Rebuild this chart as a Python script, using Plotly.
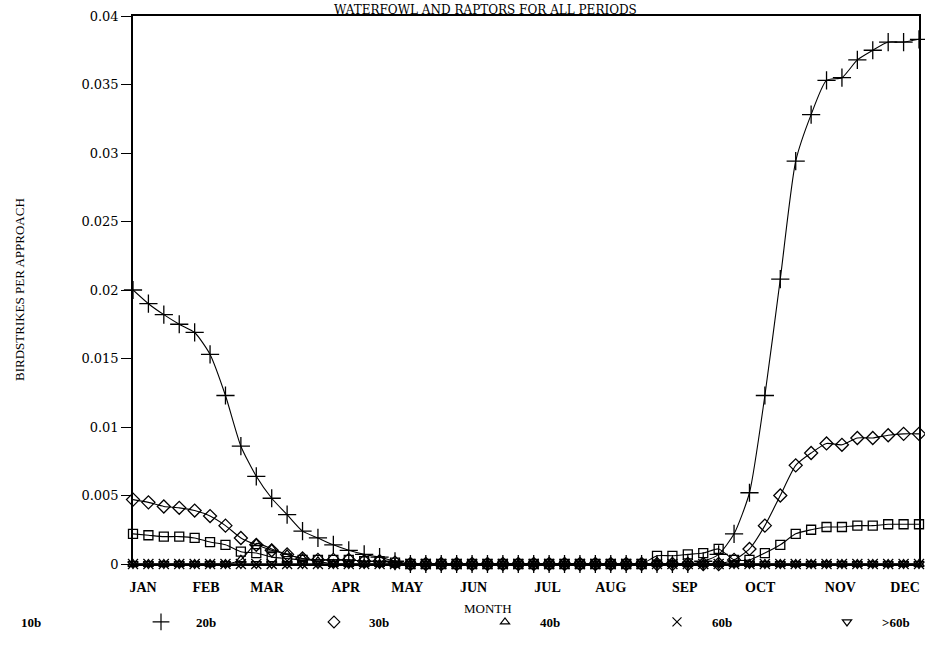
import plotly.graph_objects as go

# ---------------- data (weekly values, week 0 .. 51) ----------------
weeks = list(range(52))

month_labels = ["JAN", "FEB", "MAR", "APR", "MAY", "JUN",
                "JUL", "AUG", "SEP", "OCT", "NOV", "DEC"]
month_pos = [0.65, 4.74, 8.7, 13.8, 17.8, 22.1, 26.9, 31.0, 35.8, 40.7, 45.9, 50.1]

y_tick_vals = [0, 0.005, 0.01, 0.015, 0.02, 0.025, 0.03, 0.035, 0.04]

s_10b = [0.0022, 0.0021, 0.0020, 0.0020, 0.0019, 0.0016, 0.0014, 0.0009, 0.0008, 0.0005,
         0.0004, 0.0003, 0.0003, 0.0003, 0.0003, 0.0002, 0.0002, 0.0001, 0, 0,
         0, 0, 0, 0, 0, 0, 0, 0, 0, 0,
         0, 0, 0, 0, 0.0006, 0.0006, 0.0007, 0.0008, 0.0011, 0.0003,
         0.0003, 0.0008, 0.0014, 0.0022, 0.0025, 0.0027, 0.0027, 0.0028, 0.0028, 0.0029,
         0.0029, 0.0029]

s_20b = [0.0200, 0.0190, 0.0182, 0.0175, 0.0169, 0.0153, 0.0123, 0.0086, 0.0064, 0.0048,
         0.0036, 0.0024, 0.0019, 0.0014, 0.0010, 0.0007, 0.0005, 0.0002, 0, 0,
         0, 0, 0, 0, 0, 0, 0, 0, 0, 0,
         0, 0, 0, 0, 0, 0, 0, 0.0002, 0.0007, 0.0022,
         0.0052, 0.0123, 0.0208, 0.0294, 0.0328, 0.0353, 0.0355, 0.0368, 0.0375, 0.0381,
         0.0381, 0.0383]

s_30b = [0.0047, 0.0045, 0.0042, 0.0041, 0.0039, 0.0035, 0.0028, 0.0019, 0.0014, 0.0010,
         0.0007, 0.0004, 0.0003, 0.0003, 0.0003, 0.0002, 0.0002, 0.0001, 0, 0,
         0, 0, 0, 0, 0, 0, 0, 0, 0, 0,
         0, 0, 0, 0, 0, 0, 0, 0, 0, 0.0003,
         0.0011, 0.0028, 0.0050, 0.0072, 0.0081, 0.0088, 0.0087, 0.0092, 0.0092, 0.0094,
         0.0095, 0.0095]

s_40b = [0, 0, 0, 0, 0, 0, 0, 0.0003, 0.0015, 0.0011,
         0.0007, 0.0004, 0.0002, 0, 0, 0, 0, 0, 0, 0,
         0, 0, 0, 0, 0, 0, 0, 0, 0, 0,
         0, 0, 0, 0, 0, 0, 0, 0, 0, 0,
         0, 0, 0, 0, 0, 0, 0, 0, 0, 0,
         0, 0]

s_60b = [0, 0, 0, 0, 0, 0, 0, 0, 0, 0,
         0, 0, 0, 0, 0, 0, 0, 0, 0, 0,
         0, 0, 0, 0, 0, 0, 0, 0, 0, 0,
         0, 0, 0, 0, 0, 0, 0, 0, 0, 0,
         0, 0, 0, 0, 0, 0, 0, 0, 0, 0,
         0, 0]

s_gt60b = [0, 0, 0, 0, 0, 0, 0, 0, 0, 0,
           0, 0, 0, 0, 0, 0, 0, 0, 0, 0,
           0, 0, 0, 0, 0, 0, 0, 0, 0, 0,
           0, 0, 0, 0, 0, 0, 0, 0, 0, 0,
           0, 0, 0, 0, 0, 0, 0, 0, 0, 0,
           0, 0]

series_names = ["10b", "20b", "30b", "40b", "60b", ">60b"]
series_values = [s_10b, s_20b, s_30b, s_40b, s_60b, s_gt60b]
chart_title = "WATERFOWL AND RAPTORS FOR ALL PERIODS"

# ---------------- styling ----------------
symbols = ["square-open", "cross-thin-open", "diamond-open",
           "triangle-up-open", "x-thin-open", "triangle-down-open"]
sizes = [9, 13, 10, 9, 10, 9]
SERIF = "Liberation Serif"
WIDE = "DejaVu Serif"

# plot-area geometry in pixels
L, R, T, B = 133, 6, 16, 104
W, H = 925, 668
pw = W - L - R
ph = H - T - B

# legend marker pixel positions (first one falls off the page, like the scan)
legend_marker_px = [-14, 161, 334, 505, 677, 847]
legend_center_py = 622
ITEMW = 60

fig = go.Figure()
for i, (name, vals) in enumerate(zip(series_names, series_values)):
    fig.add_trace(go.Scatter(
        x=weeks, y=vals, name=name,
        mode="lines+markers",
        line=dict(color="black", width=1.1, shape="spline", smoothing=0.6),
        marker=dict(symbol=symbols[i], size=sizes[i], color="black",
                    line=dict(color="black", width=1.3)),
        cliponaxis=False,
        showlegend=False,
    ))

# marker-only legend entries (the scan's key shows just the symbol and label)
for i, name in enumerate(series_names):
    fig.add_trace(go.Scatter(
        x=[None], y=[None], name=name, mode="markers",
        marker=dict(symbol=symbols[i], size=sizes[i] - 1, color="black",
                    line=dict(color="black", width=1.2)),
        legend="legend" if i == 0 else f"legend{i + 1}",
        showlegend=True, hoverinfo="skip",
    ))

legend_common = dict(orientation="h", xanchor="left", yanchor="middle",
                     itemwidth=ITEMW, bgcolor="rgba(0,0,0,0)",
                     font=dict(family=SERIF, size=13, color="black", weight="bold"))
layout_legends = {}
for i, mx in enumerate(legend_marker_px):
    key = "legend" if i == 0 else f"legend{i + 1}"
    lx = (mx - (ITEMW + 10) / 2 - L) / pw
    ly = (H - B - legend_center_py) / ph
    layout_legends[key] = dict(x=lx, y=ly, **legend_common)

fig.update_layout(
    width=W, height=H,
    margin=dict(l=L, r=R, t=T, b=B, autoexpand=False),
    paper_bgcolor="white", plot_bgcolor="white",
    font=dict(family=SERIF, color="black", size=13),
    xaxis=dict(range=[0, 51], tickmode="array", tickvals=month_pos, ticktext=month_labels,
               ticks="", showgrid=False, zeroline=False,
               showline=True, linecolor="black", linewidth=1.5, mirror=True,
               ticklabelstandoff=9,
               tickfont=dict(family=SERIF, size=14, color="black", weight="bold")),
    yaxis=dict(range=[0, 0.04], tickmode="array", tickvals=y_tick_vals,
               ticktext=[str(v) for v in y_tick_vals],
               ticks="outside", ticklen=10, tickcolor="black", tickwidth=1.3,
               showgrid=False, zeroline=False,
               showline=True, linecolor="black", linewidth=1.5, mirror=True,
               tickfont=dict(family=WIDE, size=13, color="black")),
    annotations=[
        dict(text=chart_title, xref="paper", yref="paper",
             x=(485 - L) / pw, y=(H - B - 1) / ph, xanchor="center", yanchor="top",
             showarrow=False, font=dict(family=WIDE, size=12, color="black")),
        dict(text="MONTH", xref="paper", yref="paper",
             x=(488 - L) / pw, y=(H - B - 608) / ph, xanchor="center", yanchor="middle",
             showarrow=False, font=dict(family=SERIF, size=13, color="black")),
        dict(text="BIRDSTRIKES PER APPROACH", xref="paper", yref="paper",
             x=(19 - L) / pw, y=0.5, xanchor="center", yanchor="middle", textangle=-90,
             showarrow=False, font=dict(family=SERIF, size=13, color="black")),
    ],
    **layout_legends,
)

# the page's default 8px body margin would shift and crop the fixed-size figure
fig.write_html("out.html", config={"displayModeBar": False},
               post_script="document.body.style.margin='0';")
